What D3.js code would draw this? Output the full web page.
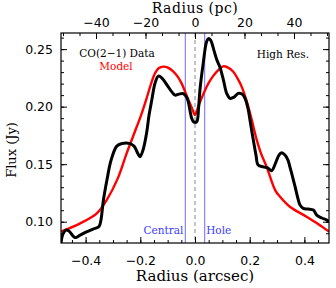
<!DOCTYPE html>
<html>
<head>
<meta charset="utf-8">
<script src="https://cdn.jsdelivr.net/npm/d3@7"></script>
<style>
  body { margin: 0; background: #fff; }
  svg { display: block; }
</style>
</head>
<body>
<div id="chart"></div>
<script>
// data (radius in arcsec, flux in Jy)
var dataRadius = [-0.490, -0.483, -0.472, -0.461, -0.439, -0.420, -0.399, -0.373, -0.351, -0.344,
    -0.335, -0.322, -0.307, -0.286, -0.267, -0.238, -0.223, -0.208, -0.201, -0.190,
    -0.177, -0.168, -0.158, -0.146, -0.134, -0.121, -0.102, -0.084, -0.073, -0.059,
    -0.043, -0.029, -0.012, -0.005, 0.006, 0.013, 0.018, 0.030, 0.042, 0.049,
    0.057, 0.069, 0.080, 0.091, 0.104, 0.116, 0.128, 0.143, 0.158, 0.172,
    0.183, 0.195, 0.201, 0.212, 0.223, 0.231, 0.250, 0.267, 0.280, 0.296,
    0.307, 0.317, 0.329, 0.340, 0.347, 0.358, 0.366, 0.378, 0.384, 0.396,
    0.413, 0.433, 0.445, 0.464, 0.482, 0.490];
var dataFlux = [0.0814, 0.0893, 0.0927, 0.0919, 0.0862, 0.0884, 0.0910, 0.0936, 0.0958, 0.1014,
    0.1186, 0.1362, 0.1534, 0.1657, 0.1679, 0.1679, 0.1657, 0.1588, 0.1564, 0.1623,
    0.1770, 0.1927, 0.2057, 0.2205, 0.2265, 0.2248, 0.2187, 0.2126, 0.2100, 0.2109,
    0.2113, 0.2074, 0.1898, 0.1868, 0.1868, 0.1987, 0.2144, 0.2376, 0.2561, 0.2591,
    0.2578, 0.2491, 0.2405, 0.2344, 0.2231, 0.2115, 0.2072, 0.2083, 0.2115, 0.2109,
    0.2072, 0.1970, 0.1883, 0.1727, 0.1579, 0.1492, 0.1477, 0.1466, 0.1443, 0.1518,
    0.1579, 0.1599, 0.1579, 0.1536, 0.1477, 0.1379, 0.1304, 0.1188, 0.1145, 0.1116,
    0.1110, 0.1101, 0.1058, 0.1032, 0.1014, 0.0997];

var modelRadius = [-0.490, -0.420, -0.359, -0.323, -0.282, -0.250, -0.213, -0.197, -0.179, -0.161,
    -0.146, -0.132, -0.116, -0.099, -0.079, -0.062, -0.049, -0.037, -0.024, -0.011,
    0.000, 0.011, 0.024, 0.037, 0.049, 0.066, 0.085, 0.103, 0.121, 0.140,
    0.157, 0.171, 0.189, 0.205, 0.226, 0.241, 0.262, 0.293, 0.311, 0.347,
    0.408, 0.450, 0.490];
var modelFlux = [0.0914, 0.0986, 0.1073, 0.1188, 0.1379, 0.1594, 0.1825, 0.1927, 0.2057, 0.2196,
    0.2291, 0.2335, 0.2348, 0.2339, 0.2305, 0.2257, 0.2202, 0.2135, 0.2057, 0.1987,
    0.1927, 0.1996, 0.2072, 0.2144, 0.2202, 0.2265, 0.2318, 0.2350, 0.2339, 0.2303,
    0.2239, 0.2172, 0.2048, 0.1909, 0.1709, 0.1596, 0.1477, 0.1275, 0.1217, 0.1130,
    0.1043, 0.0980, 0.0914];

var holeEdges = [-0.0355, 0.0355];
var xTicks = [-0.4, -0.2, 0.0, 0.2, 0.4];
var pcTicks = [-40, -20, 0, 20, 40];
var yTicks = [0.10, 0.15, 0.20, 0.25];

var width = 336, height = 288;
var margin = { top: 33, right: 7, bottom: 45, left: 61 };
var pcPerArcsec = 110.5;
var xDomain = [-0.49, 0.49];
var yDomain = [0.0815, 0.264];

var svg = d3.select('#chart')
    .append('svg')
    .attr('width', width)
    .attr('height', height);

var x = d3.scaleLinear().domain(xDomain).range([margin.left, width - margin.right]);
var xPc = d3.scaleLinear().domain(xDomain.map(d => d * pcPerArcsec)).range(x.range());
var y = d3.scaleLinear().domain(yDomain).range([height - margin.bottom, margin.top]);

var serif = 'DejaVu Serif';
var sans = 'DejaVu Sans';

var plotLeft = margin.left, plotRight = width - margin.right;
var plotTop = margin.top, plotBottom = height - margin.bottom;

svg.append('clipPath').attr('id', 'plot-clip')
    .append('rect')
    .attr('x', plotLeft).attr('y', plotTop)
    .attr('width', plotRight - plotLeft)
    .attr('height', plotBottom - plotTop);

var plot = svg.append('g').attr('clip-path', 'url(#plot-clip)');

// central hole markers
plot.selectAll('.hole')
    .data(holeEdges)
    .join('line')
    .attr('x1', d => x(d)).attr('x2', d => x(d))
    .attr('y1', plotTop).attr('y2', plotBottom)
    .attr('stroke', '#6b6bff')
    .attr('stroke-width', 1);

plot.append('line')
    .attr('x1', x(0)).attr('x2', x(0))
    .attr('y1', plotTop).attr('y2', plotBottom)
    .attr('stroke', '#888')
    .attr('stroke-width', 1)
    .attr('stroke-dasharray', '4,3');

var line = d3.line()
    .x(d => x(d[0]))
    .y(d => y(d[1]))
    .curve(d3.curveCatmullRom);

plot.append('path')
    .datum(d3.zip(modelRadius, modelFlux))
    .attr('fill', 'none')
    .attr('stroke', '#ff0000')
    .attr('stroke-width', 2.4)
    .attr('d', line);

plot.append('path')
    .datum(d3.zip(dataRadius, dataFlux))
    .attr('fill', 'none')
    .attr('stroke', '#000')
    .attr('stroke-width', 3)
    .attr('stroke-linejoin', 'round')
    .attr('d', line);

// axes, ticks pointing inward
function styleAxis(g) {
    g.select('.domain').remove();
    g.selectAll('.tick line').attr('stroke', '#000');
    g.selectAll('text').attr('font-family', sans).attr('font-size', 12.5).attr('fill', '#000');
}

var minorX = d3.range(-0.45, 0.4501, 0.05);
var minorPc = d3.range(-160 / 3, 160 / 3 + 0.01, 20 / 3);
var minorY = d3.range(0.09, 0.2601, 0.01);

var minus = s => s.replace('-', '\u2212');

svg.append('g').attr('transform', `translate(0,${plotBottom})`)
    .call(d3.axisBottom(x).tickValues(minorX).tickSize(-3).tickFormat(''))
    .call(styleAxis);
svg.append('g').attr('transform', `translate(0,${plotBottom})`)
    .call(d3.axisBottom(x).tickValues(xTicks).tickSize(-6).tickPadding(13)
        .tickFormat(d => minus(d3.format('.1f')(d))))
    .call(styleAxis);

svg.append('g').attr('transform', `translate(0,${plotTop})`)
    .call(d3.axisTop(xPc).tickValues(minorPc).tickSize(-3).tickFormat(''))
    .call(styleAxis);
svg.append('g').attr('transform', `translate(0,${plotTop})`)
    .call(d3.axisTop(xPc).tickValues(pcTicks).tickSize(-6).tickPadding(6)
        .tickFormat(d => minus(String(d))))
    .call(styleAxis);

svg.append('g').attr('transform', `translate(${plotLeft},0)`)
    .call(d3.axisLeft(y).tickValues(minorY).tickSize(-3).tickFormat(''))
    .call(styleAxis);
svg.append('g').attr('transform', `translate(${plotLeft},0)`)
    .call(d3.axisLeft(y).tickValues(yTicks).tickSize(-6).tickPadding(8)
        .tickFormat(d3.format('.2f')))
    .call(styleAxis);

svg.append('g').attr('transform', `translate(${plotRight},0)`)
    .call(d3.axisRight(y).tickValues(minorY).tickSize(-3).tickFormat(''))
    .call(styleAxis);
svg.append('g').attr('transform', `translate(${plotRight},0)`)
    .call(d3.axisRight(y).tickValues(yTicks).tickSize(-6).tickFormat(''))
    .call(styleAxis);

svg.append('rect')
    .attr('x', plotLeft).attr('y', plotTop)
    .attr('width', plotRight - plotLeft).attr('height', plotBottom - plotTop)
    .attr('fill', 'none')
    .attr('stroke', '#000')
    .attr('stroke-width', 1.2);

// titles
svg.append('text')
    .attr('x', x(0)).attr('y', 12.5)
    .attr('text-anchor', 'middle')
    .attr('font-family', serif).attr('font-size', 14)
    .attr('letter-spacing', 0.5)
    .text('Radius (pc)');

svg.append('text')
    .attr('x', x(0)).attr('y', 281)
    .attr('text-anchor', 'middle')
    .attr('font-family', serif).attr('font-size', 15)
    .text('Radius (arcsec)');

svg.append('text')
    .attr('transform', 'translate(16,150) rotate(-90)')
    .attr('text-anchor', 'middle')
    .attr('font-family', serif).attr('font-size', 13)
    .text('Flux (Jy)');

// annotations
svg.append('text')
    .attr('x', 117).attr('y', 57)
    .attr('text-anchor', 'middle')
    .attr('font-family', serif).attr('font-size', 10.5)
    .text('CO(2\u22121) Data');

svg.append('text')
    .attr('x', 116).attr('y', 69.5)
    .attr('text-anchor', 'middle')
    .attr('font-family', serif).attr('font-size', 10.5)
    .attr('fill', '#ff0000')
    .text('Model');

svg.append('text')
    .attr('x', 309).attr('y', 57.5)
    .attr('text-anchor', 'end')
    .attr('font-family', serif).attr('font-size', 10.5)
    .text('High Res.');

svg.append('text')
    .attr('x', x(holeEdges[0]) - 2).attr('y', 234)
    .attr('text-anchor', 'end')
    .attr('font-family', serif).attr('font-size', 10.5)
    .attr('fill', '#3b3bff')
    .text('Central');

svg.append('text')
    .attr('x', x(holeEdges[1]) + 1.5).attr('y', 234)
    .attr('font-family', serif).attr('font-size', 10.5)
    .attr('fill', '#3b3bff')
    .text('Hole');
</script>
</body>
</html>
